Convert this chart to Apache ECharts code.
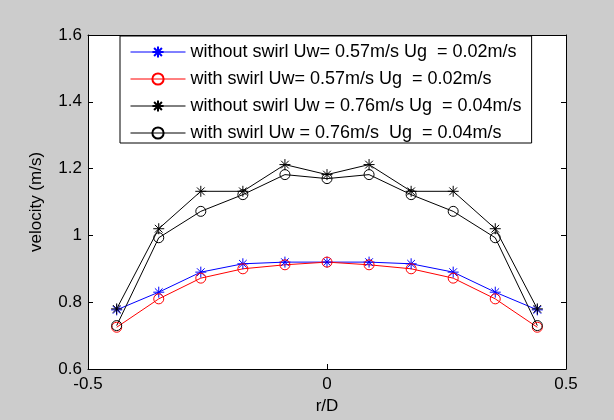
<!DOCTYPE html>
<html>
<head>
<meta charset="utf-8">
<script src="https://cdn.jsdelivr.net/npm/echarts@6/dist/echarts.min.js"></script>
<style>
html,body{margin:0;padding:0;background:#cccccc;}
#chart{width:614px;height:420px;}
</style>
</head>
<body>
<div id="chart"></div>
<script>
const rD = [-0.44, -0.352, -0.264, -0.176, -0.088, 0, 0.088, 0.176, 0.264, 0.352, 0.44];
const noSwirl057 = [0.777, 0.83, 0.89, 0.915, 0.92, 0.92, 0.92, 0.915, 0.89, 0.83, 0.777];
const swirl057 = [0.725, 0.81, 0.872, 0.90, 0.912, 0.92, 0.912, 0.90, 0.872, 0.81, 0.725];
const noSwirl076 = [0.78, 1.02, 1.132, 1.132, 1.212, 1.182, 1.212, 1.132, 1.132, 1.02, 0.78];
const swirl076 = [0.73, 0.993, 1.072, 1.122, 1.182, 1.17, 1.182, 1.122, 1.072, 0.993, 0.73];
const names = [
  'without swirl Uw= 0.57m/s Ug  = 0.02m/s',
  'with swirl Uw= 0.57m/s Ug  = 0.02m/s',
  'without swirl Uw = 0.76m/s Ug  = 0.04m/s',
  'with swirl Uw = 0.76m/s  Ug  = 0.04m/s'
];
const xTicks = [-0.5, 0, 0.5];
const yTicks = [0.6, 0.8, 1, 1.2, 1.4, 1.6];

const STAR = 'path://M5,0L5,10M0,5L10,5M1.5,1.5L8.5,8.5M1.5,8.5L8.5,1.5';
const FONT = 'Liberation Sans';
const FS = 17;

function pairs(ys){ return rD.map((x,i)=>[x, ys[i]]); }
function mk(name, ys, color, star){
  return {
    name: name, type: 'line', data: pairs(ys),
    symbol: star ? STAR : 'circle',
    symbolSize: star ? 11 : 10,
    showAllSymbol: true,
    lineStyle: {color: color, width: 1},
    itemStyle: {color: star ? color : 'rgba(0,0,0,0)', borderColor: color, borderWidth: 1},
    emphasis: {disabled: true},
    animation: false
  };
}

const chart = echarts.init(document.getElementById('chart'), null, {renderer: 'canvas'});
const axisCommon = {
  axisLine: {show: true, onZero: false, lineStyle: {color: '#000', width: 1}},
  axisTick: {show: true, inside: true, length: 5, lineStyle: {color: '#000'}},
  splitLine: {show: false}
};
chart.setOption({
  backgroundColor: '#cccccc',
  animation: false,
  textStyle: {fontFamily: FONT},
  grid: {left: 88, right: 48, top: 35, bottom: 51, show: true, backgroundColor: '#ffffff', borderWidth: 0},
  legend: {
    show: true, orient: 'vertical', left: 120, top: 36,
    data: names,
    itemWidth: 55, itemHeight: 14, itemGap: 9,
    padding: [7, 10, 1, 10],
    lineStyle: {width: 1},
    backgroundColor: '#ffffff', borderColor: '#000', borderWidth: 1, borderRadius: 0,
    textStyle: {fontFamily: FONT, fontSize: 18, lineHeight: 16, color: '#000'},
    selectedMode: false
  },
  xAxis: [
    Object.assign({type: 'value', position: 'bottom', min: -0.5, max: 0.5, interval: 0.5,
      name: 'r/D', nameLocation: 'middle', nameGap: 29,
      nameTextStyle: {fontFamily: FONT, fontSize: FS, color: '#000'},
      axisLabel: {fontFamily: FONT, fontSize: FS, color: '#000', margin: 7,
        formatter: v => xTicks.includes(v) ? String(v) : ''}}, axisCommon),
    Object.assign({type: 'value', position: 'top', min: -0.5, max: 0.5, interval: 0.5,
      axisLabel: {show: false}}, axisCommon)
  ],
  yAxis: [
    Object.assign({type: 'value', position: 'left', min: 0.6, max: 1.6, interval: 0.2,
      name: 'velocity (m/s)', nameLocation: 'middle', nameGap: 43, nameRotate: 90,
      nameTextStyle: {fontFamily: FONT, fontSize: FS, color: '#000'},
      axisLabel: {fontFamily: FONT, fontSize: FS, color: '#000', margin: 6,
        formatter: v => { const t = yTicks.find(y => Math.abs(y - v) < 1e-9); return t === undefined ? '' : String(t); }}}, axisCommon),
    Object.assign({type: 'value', position: 'right', min: 0.6, max: 1.6, interval: 0.2,
      axisLabel: {show: false}}, axisCommon)
  ],
  series: [
    mk(names[0], noSwirl057, '#0000ff', true),
    mk(names[1], swirl057, '#ff0000', false),
    mk(names[2], noSwirl076, '#000000', true),
    mk(names[3], swirl076, '#000000', false)
  ]
});
</script>
</body>
</html>
